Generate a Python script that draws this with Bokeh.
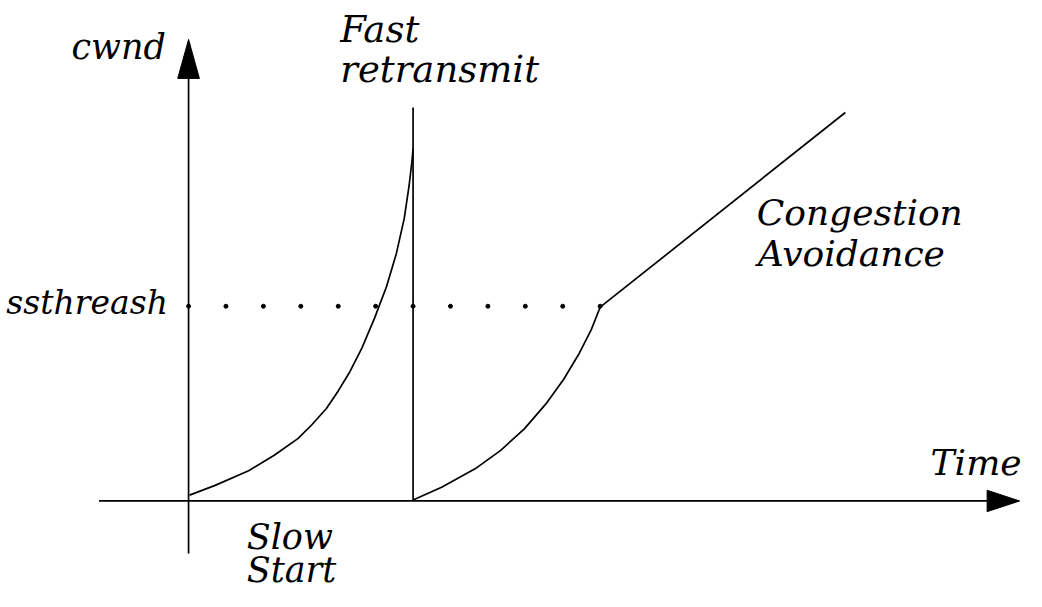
from bokeh.plotting import figure
from bokeh.models import Range1d
from bokeh.core.properties import value
from bokeh.embed import file_html
from bokeh.resources import INLINE

# ---- data (diagram units, origin at the axes crossing, y up) ----
# slow start #1 (exponential growth up to fast retransmit)
ss1_x = [1, 27, 61, 87, 111, 125, 140, 152, 164, 176, 189, 201, 211, 219, 224, 227, 228]
ss1_y = [6, 16, 31, 47, 64, 78, 95, 113, 133, 157, 188, 220, 254, 290, 324, 350, 362]
# fast retransmit drop
fr_x = [228, 228]
fr_y = [404, 0]
# slow start #2 (up to ssthresh)
ss2_x = [228, 257, 291, 317, 341, 364, 381, 397, 409, 418]
ss2_y = [1, 14, 33, 52, 74, 101, 125, 152, 176, 199]
# congestion avoidance (linear)
ca_x = [418, 667]
ca_y = [199, 399]
# ssthresh dotted level
ssthresh = 200
dots_x = [0, 38, 76, 114, 152, 190, 228, 266, 304, 342, 380, 418]

labels = ["cwnd", "Fast", "retransmit", "ssthreash", "Congestion", "Avoidance", "Time", "Slow", "Start"]

# ---- layout ----
ox, oy = 191, 514          # axes crossing in reference pixels
RW, RH = 1042, 607         # reference size
W, H = 1026, 591
p = figure(width=W, height=H, output_backend="svg", toolbar_location=None,
           x_range=Range1d(-ox, RW - ox), y_range=Range1d(oy - RH, oy),
           min_border=0, outline_line_color=None)
p.axis.visible = False
p.grid.visible = False
p.background_fill_color = "white"
p.border_fill_color = "white"

lw = 1.7
# axes
p.segment(x0=[0, -91], y0=[-54, 0], x1=[0, 813], y1=[440, 0], line_color="black", line_width=lw)
p.patches(xs=[[0, -11, 11], [844, 811, 811]], ys=[[474, 434, 434], [0, 11, -11]],
          fill_color="black", line_color="black", line_width=1)

# curves
p.line(ss1_x, ss1_y, line_color="black", line_width=lw, line_join="round")
p.line(fr_x, fr_y, line_color="black", line_width=lw)
p.line(ss2_x, ss2_y, line_color="black", line_width=lw, line_join="round")
p.line(ca_x, ca_y, line_color="black", line_width=lw)
p.scatter(dots_x, [ssthresh] * len(dots_x), size=4, color="black")

# labels
dy = 12
pos = {
    "cwnd": (-23, 454, "right", 35),
    "Fast": (154, 472, "left", 37),
    "retransmit": (154, 431, "left", 37),
    "ssthreash": (-21, 192, "right", 33),
    "Congestion": (577, 284, "left", 36),
    "Avoidance": (578, 242, "left", 36),
    "Time": (846, 27, "right", 36),
    "Slow": (59, -49, "left", 35),
    "Start": (59, -83, "left", 35),
}
for t in labels:
    x, y, al, fs = pos[t]
    p.text(x=[x], y=[y + dy], text=[t], text_font=value("DejaVu Serif"), text_font_style="italic",
           text_font_size=f"{fs}px", text_align=al, text_baseline="alphabetic", text_color="black")

open("out.html", "w").write(file_html(p, INLINE))
